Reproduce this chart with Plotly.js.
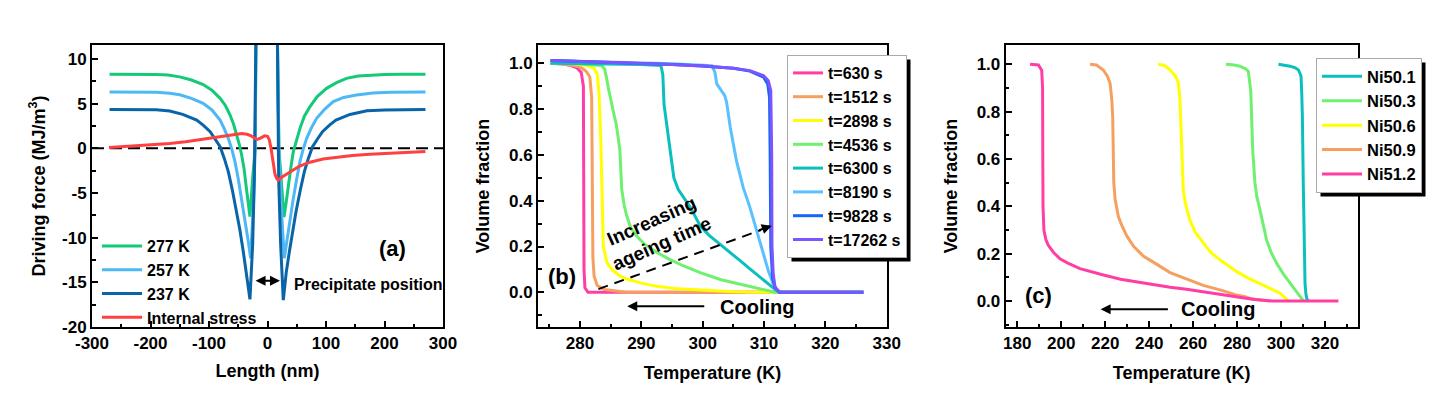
<!DOCTYPE html>
<html><head><meta charset="utf-8">
<script src="https://cdn.plot.ly/plotly-3.0.1.min.js"></script>
<style>html,body{margin:0;padding:0;background:#fff;}#chart{width:1430px;height:395px;}</style>
</head><body><div id="chart"></div>
<script>
// ---------- Panel (a): driving force vs length ----------
const len277 = [-270,-230,-190,-170,-150,-130,-110,-95,-81,-72,-64,-58,-52.7,-48,-44.2,-40,-36.8,-33,-30,-25,-21,-19.7,16.8,19.5,23,28.2,32,35.6,40,44.1,50,55.5,63,72.6,85,101,118,135,155,175,200,230,270];
const force277 = [8.3,8.3,8.28,8.2,8.0,7.65,7.15,6.5,5.6,4.8,3.73,2.7,1.5,0.4,-0.74,-2.3,-4.1,-6.0,-7.65,-3,0,13,13,0,-3,-7.7,-6.0,-4.1,-2.1,-0.37,1.0,2.24,3.6,4.67,5.8,6.72,7.35,7.84,8.1,8.2,8.28,8.3,8.3];
const len257 = [-270,-230,-190,-167,-150,-130,-110,-95,-81,-74,-67,-61,-55.6,-50,-44.2,-40,-35.6,-32,-28.8,-24,-21,-19.7,16.8,19.5,23,28.7,32,35.6,40,44.1,50,55.5,61,67,75,84,98,112.5,130,152,180,210,270];
const force257 = [6.3,6.3,6.28,6.18,6.0,5.6,5.04,4.3,3.17,2.2,1.12,-0.1,-1.49,-3.4,-5.6,-7.4,-9.3,-10.8,-12.3,-6,0,13,13,0,-6,-12.3,-10.8,-9.3,-7.4,-5.6,-3.4,-1.49,-0.1,1.12,2.3,3.36,4.4,5.23,5.7,5.97,6.2,6.28,6.3];
const len237 = [-270,-230,-190,-167,-145,-121,-110,-98,-90,-81,-74,-67,-60,-52.7,-47,-41.3,-36,-30,-25.4,-22.5,-19.7,16.8,19.1,22.5,27,32,37.3,43,48.7,56,63,70,77,86,94,106,117,141,170,200,270];
const force237 = [4.35,4.35,4.33,4.18,3.8,3.17,2.6,1.87,1.1,0.19,-1.1,-2.6,-4.7,-7.09,-9.2,-11.6,-13.9,-16.9,-10.8,-3.4,13,13,-3.4,-10.8,-17.0,-13.9,-11.6,-9.2,-7.09,-4.7,-2.6,-1.1,0.19,1.1,1.87,2.6,3.17,3.8,4.2,4.3,4.35];
const lenStress = [-271,-230,-200,-167,-140,-110,-90,-70,-58,-44,-35,-28,-22,-17.4,-12,-5,0,3,6,8.8,12.8,16,18.5,23,30,37,44,55,72.6,95,118,145,175,220,270];
const stress = [0.1,0.28,0.4,0.55,0.75,1.05,1.25,1.45,1.58,1.65,1.58,1.4,1.15,1.0,1.15,1.4,1.35,1.0,0.0,-1.1,-2.9,-3.4,-3.54,-3.3,-2.98,-2.7,-2.42,-2.0,-1.55,-1.2,-0.98,-0.8,-0.65,-0.5,-0.35];
const namesA = ['277 K','257 K','237 K','Internal stress'];
const colorsA = ['#14C97A','#4DB8F5','#0A64A8','#FF4040'];
const ticksAx = [-300,-200,-100,0,100,200,300];
const ticksAxText = ['-300','-200','-100','0','100','200','300'];
const ticksAy = [-20,-15,-10,-5,0,5,10];
const ticksAyText = ['-20','-15','-10','-5','0','5','10'];

// ---------- Panel (b): volume fraction vs temperature, ageing times ----------
const namesB = ['t=630 s','t=1512 s','t=2898 s','t=4536 s','t=6300 s','t=8190 s','t=9828 s','t=17262 s'];
const colorsB = ['#FF3EA5','#F5A060','#FFFF00','#6FF06F','#0BBFBF','#5BC0FF','#1766F5','#7B55FF'];
const tB630 = [275.2,277,278.5,279.5,280.2,280.55,280.6,280.65,280.8,281.3,326.2];
const vB630 = [1.0,0.998,0.99,0.98,0.96,0.9,0.5,0.1,0.02,0.0,0.0];
const tB1512 = [275.2,278,280,281,281.6,281.9,282.0,282.1,282.3,282.8,284,286,287.5,326.2];
const vB1512 = [1.0,0.995,0.985,0.965,0.94,0.85,0.5,0.15,0.07,0.03,0.012,0.004,0.0,0.0];
const tB2898 = [275.2,279,281,282.2,282.8,283.1,283.4,283.6,283.8,284.4,285.2,286.3,287.6,290,292.5,296,300.7,305,308.3,326.2];
const vB2898 = [1.0,0.998,0.99,0.98,0.955,0.87,0.65,0.35,0.2,0.13,0.10,0.075,0.058,0.04,0.026,0.015,0.007,0.002,0.0,0.0];
const tB4536 = [275.2,280,283.5,284.0,284.3,284.6,285.5,285.9,286.2,286.5,286.8,287.2,287.6,288.3,289.2,290.5,292.5,294.5,296.8,299.6,303,306.1,309,311.8,326.2];
const vB4536 = [1.0,0.998,0.99,0.975,0.94,0.895,0.78,0.735,0.68,0.62,0.45,0.38,0.335,0.28,0.247,0.21,0.175,0.145,0.116,0.086,0.055,0.035,0.015,0.0,0.0];
const tB6300 = [275.2,285,290,293.2,293.5,293.7,294.2,294.8,295.3,296.0,296.7,298,299.6,301,302.8,304.5,306.1,307.8,309.4,311,312.4,326.2];
const vB6300 = [1.0,0.998,0.995,0.99,0.95,0.82,0.72,0.60,0.50,0.45,0.42,0.37,0.29,0.25,0.21,0.175,0.138,0.10,0.065,0.03,0.0,0.0];
const tB8190 = [275.2,285,295,301.5,302,302.3,302.8,303.6,303.9,304.5,305.5,306.6,307.7,308.8,309.9,310.7,311.5,312.4,326.2];
const vB8190 = [1.012,1.005,0.998,0.99,0.96,0.91,0.888,0.859,0.83,0.72,0.575,0.458,0.371,0.269,0.167,0.094,0.036,0.0,0.0];
const tB9828 = [275.2,285,295,300,305,307.7,309.9,310.6,310.9,311.0,311.1,311.4,311.8,312.5,326.2];
const vB9828 = [1.012,1.005,0.995,0.988,0.978,0.966,0.94,0.91,0.85,0.6,0.2,0.06,0.02,0.0,0.0];
const tB17262 = [275.2,285,295,300,305,307.7,309.9,310.7,311.1,311.25,311.3,311.5,311.8,312.6,326.2];
const vB17262 = [1.012,1.005,0.995,0.988,0.978,0.968,0.946,0.924,0.88,0.6,0.2,0.08,0.022,0.0,0.0];
const tempB = [tB630,tB1512,tB2898,tB4536,tB6300,tB8190,tB9828,tB17262];
const fracB = [vB630,vB1512,vB2898,vB4536,vB6300,vB8190,vB9828,vB17262];

// ---------- Panel (c): volume fraction vs temperature, compositions ----------
const namesC = ['Ni50.1','Ni50.3','Ni50.6','Ni50.9','Ni51.2'];
const colorsC = ['#0BBFBF','#6FF06F','#FFFF00','#F5A060','#FF3EA5'];
const tC501 = [298.8,302,304.1,306.5,307.9,308.7,309.1,309.4,309.7,310.1,310.6,310.9,311.3,311.7,312.4];
const vC501 = [1.0,0.997,0.992,0.985,0.976,0.96,0.948,0.88,0.78,0.5,0.22,0.075,0.03,0.011,0.0];
const tC503 = [274.9,278,281.3,284,285.1,285.8,286.2,286.6,287.1,288.1,289,290.4,291.8,293.4,295.5,298,301,304,307,310.2];
const vC503 = [1.0,0.998,0.992,0.98,0.97,0.93,0.89,0.78,0.64,0.5,0.44,0.385,0.32,0.258,0.205,0.159,0.115,0.075,0.04,0.0];
const tC506 = [244.1,247,249.5,252,253.3,254,254.3,254.8,255.5,256.5,258.5,261,264.6,268,272.2,276,279.8,285,290.4,295,299.5,302.2,303.5];
const vC506 = [1.0,0.995,0.976,0.95,0.92,0.85,0.78,0.6,0.47,0.41,0.342,0.29,0.244,0.205,0.174,0.148,0.124,0.097,0.075,0.053,0.033,0.011,0.0];
const tC509 = [213.1,216,219.1,221,222.2,223,223.4,223.7,223.9,224.5,226,227.5,229.8,233,237.3,242.6,249.5,257.8,264.6,273,279.8,283.6,287,292.7,295];
const vC509 = [1.0,0.997,0.976,0.95,0.92,0.85,0.78,0.64,0.5,0.43,0.356,0.32,0.275,0.23,0.19,0.16,0.12,0.09,0.066,0.045,0.025,0.018,0.008,0.002,0.0];
const tC512 = [185.8,189.6,191.1,191.5,191.6,191.7,192.1,193,194.1,196.5,199.4,203,208.5,214,219.2,227,234.3,242,249.5,257,264.7,272,279.8,284,288,292,296,326.1];
const vC512 = [1.0,0.997,0.975,0.9,0.6,0.4,0.3,0.26,0.235,0.205,0.178,0.16,0.137,0.122,0.11,0.092,0.08,0.068,0.058,0.05,0.04,0.03,0.02,0.012,0.006,0.002,0.0,0.0];
const tempC = [tC501,tC503,tC506,tC509,tC512];
const fracC = [vC501,vC503,vC506,vC509,vC512];

const FONT = 'Liberation Sans, Arial, sans-serif';
const W = 1430, H = 395;

const traces = [];
[[len277,force277],[len257,force257],[len237,force237],[lenStress,stress]].forEach((d,i)=>{
  traces.push({x:d[0],y:d[1],type:'scatter',mode:'lines',name:namesA[i],
    line:{color:colorsA[i],width:3},xaxis:'x',yaxis:'y',legend:'legend'});
});
namesB.forEach((n,i)=>{
  traces.push({x:tempB[i],y:fracB[i],type:'scatter',mode:'lines',name:n,
    line:{color:colorsB[i],width:3},xaxis:'x2',yaxis:'y2',legend:'legend2'});
});
namesC.forEach((n,i)=>{
  traces.push({x:tempC[i],y:fracC[i],type:'scatter',mode:'lines',name:n,
    line:{color:colorsC[i],width:3},xaxis:'x3',yaxis:'y3',legend:'legend3'});
});

const tickFont = {family:FONT,size:17,color:'#000',weight:'bold'};
const titleFont = {family:FONT,size:18,color:'#000',weight:'bold'};
function ax(extra){
  return Object.assign({showline:true,linecolor:'#000',linewidth:2,mirror:true,
    ticks:'inside',ticklen:6,tickwidth:2,tickcolor:'#000',showgrid:false,zeroline:false,
    tickfont:tickFont,fixedrange:true},extra);
}
const minorTick = {ticks:'inside',ticklen:3.5,tickwidth:2,tickcolor:'#000',tickmode:'linear',tick0:0};
const yDom = [68/H, 350/H];

const layout = {
  width:W,height:H,margin:{l:0,r:0,t:0,b:0},paper_bgcolor:'#fff',plot_bgcolor:'#fff',
  font:{family:FONT,color:'#000'},
  xaxis: ax({domain:[92/W,443/W],range:[-300,300],anchor:'y',tickmode:'array',tickvals:ticksAx,ticktext:ticksAxText,
    minor:Object.assign({dtick:50},minorTick),
    title:{text:'Length (nm)',font:titleFont,standoff:12}}),
  yaxis: ax({domain:yDom,range:[-20,11.57],anchor:'x',tickmode:'array',tickvals:ticksAy,ticktext:ticksAyText,
    minor:Object.assign({dtick:2.5},minorTick),
    title:{text:'Driving force (MJ/m<sup>3</sup>)',font:titleFont,standoff:12}}),
  xaxis2: ax({domain:[538/W,887/W],range:[273.15,330.05],anchor:'y2',tickmode:'linear',tick0:280,dtick:10,
    minor:Object.assign({dtick:5},minorTick),
    title:{text:'Temperature (K)',font:titleFont,standoff:14}}),
  yaxis2: ax({domain:yDom,range:[-0.1515,1.0799],anchor:'x2',tickmode:'linear',tick0:0,dtick:0.2,tickformat:'.1f',
    minor:Object.assign({dtick:0.1},minorTick),
    title:{text:'Volume fraction',font:titleFont,standoff:15}}),
  xaxis3: ax({domain:[1005.7/W,1357.7/W],range:[174.72,334.87],anchor:'y3',tickmode:'linear',tick0:180,dtick:20,
    minor:Object.assign({dtick:10},minorTick),
    title:{text:'Temperature (K)',font:titleFont,standoff:14}}),
  yaxis3: ax({domain:yDom,range:[-0.1098,1.0815],anchor:'x3',tickmode:'linear',tick0:0,dtick:0.2,tickformat:'.1f',
    minor:Object.assign({dtick:0.1},minorTick),
    title:{text:'Volume fraction',font:titleFont,standoff:14}}),
  legend:{x:97/W,y:1-229/H,xanchor:'left',yanchor:'top',bgcolor:'rgba(0,0,0,0)',borderwidth:0,
    font:{family:FONT,size:16,color:'#000',weight:'bold'},itemwidth:40,tracegroupgap:0},
  legend2:{x:787/W,y:1-55/H,xanchor:'left',yanchor:'top',bgcolor:'#fff',bordercolor:'#aaa',borderwidth:1,
    font:{family:FONT,size:16,color:'#000',weight:'bold'},itemwidth:30,tracegroupgap:0},
  legend3:{x:1316/W,y:1-58/H,xanchor:'left',yanchor:'top',bgcolor:'#fff',bordercolor:'#aaa',borderwidth:1,
    font:{family:FONT,size:16.5,color:'#000',weight:'bold'},itemwidth:40,tracegroupgap:0},
  shapes:[
    {type:'line',xref:'x domain',yref:'y',x0:0,x1:1,y0:0,y1:0,line:{color:'#000',width:2,dash:'12px,6px'},layer:'below'},
    {type:'line',xref:'x2',yref:'y2',x0:283.0,y0:0.014,x1:309.5,y1:0.272,line:{color:'#000',width:2,dash:'10px,7px'}}
  ],
  annotations:[
    {xref:'x',yref:'y',x:214.5,y:-11.16,text:'(a)',showarrow:false,font:{family:FONT,size:22,weight:'bold',color:'#000'}},
    {xref:'x',yref:'y',x:41.9,y:-15.2,xanchor:'left',text:'Precipitate position',showarrow:false,font:{family:FONT,size:16,weight:'bold',color:'#000'}},
    {xref:'x',yref:'y',axref:'x',ayref:'y',x:21.4,y:-14.82,ax:-23,ay:-14.82,text:'',showarrow:true,arrowhead:2,arrowside:'end+start',arrowsize:1,arrowwidth:2,arrowcolor:'#000'},
    {xref:'x2',yref:'y2',x:277.1,y:0.07,text:'(b)',showarrow:false,font:{family:FONT,size:22,weight:'bold',color:'#000'}},
    {xref:'x2',yref:'y2',x:292.6,y:0.262,text:'Increasing<br>ageing time',textangle:-24,showarrow:false,font:{family:FONT,size:19,weight:'bold',color:'#000'}},
    {xref:'x2',yref:'y2',x:311.26,y:0.291,ax:-14,ay:5,text:'',showarrow:true,arrowhead:2,arrowsize:1,arrowwidth:2,arrowcolor:'#000'},
    {xref:'x2',yref:'y2',axref:'x2',ayref:'y2',x:287.7,y:-0.061,ax:300.5,ay:-0.061,text:'',showarrow:true,arrowhead:2,arrowsize:1,arrowwidth:2,arrowcolor:'#000'},
    {xref:'x2',yref:'y2',x:308.9,y:-0.064,text:'Cooling',showarrow:false,font:{family:FONT,size:20,weight:'bold',color:'#000'}},
    {xref:'x3',yref:'y3',x:189.8,y:0.023,text:'(c)',showarrow:false,font:{family:FONT,size:22,weight:'bold',color:'#000'}},
    {xref:'x3',yref:'y3',axref:'x3',ayref:'y3',x:217.9,y:-0.035,ax:249.2,ay:-0.035,text:'',showarrow:true,arrowhead:2,arrowsize:1,arrowwidth:2,arrowcolor:'#000'},
    {xref:'x3',yref:'y3',x:271.5,y:-0.035,text:'Cooling',showarrow:false,font:{family:FONT,size:20,weight:'bold',color:'#000'}}
  ],
  hovermode:false
};

Plotly.newPlot('chart',traces,layout,{displayModeBar:false,staticPlot:true}).then(gd=>{
  const extra = [];
  ['legend2','legend3'].forEach(id=>{
    const bg = gd.querySelector('g.'+id+' rect.bg');
    if(!bg) return;
    const r = bg.getBoundingClientRect();
    const off = 4;
    extra.push({type:'rect',xref:'paper',yref:'paper',
      x0:(r.left+off)/W,x1:(r.right+off)/W,y0:1-(r.bottom+off)/H,y1:1-(r.top+off)/H,
      fillcolor:'#000',line:{width:0}});
  });
  if(extra.length) Plotly.relayout(gd,{shapes:layout.shapes.concat(extra)});
});
</script>
</body></html>
